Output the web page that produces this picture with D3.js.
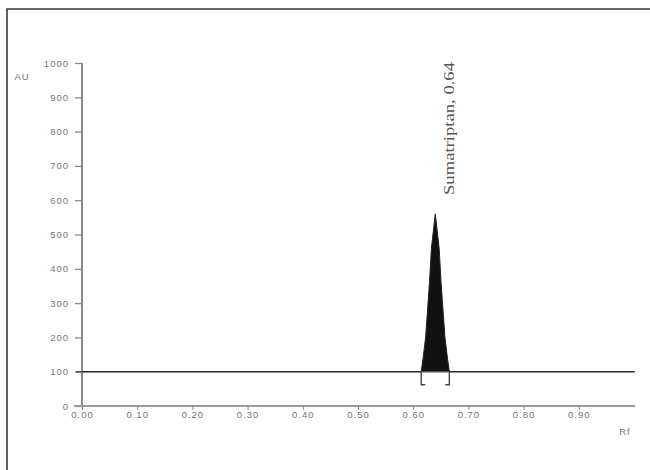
<!DOCTYPE html>
<html>
<head>
<meta charset="utf-8">
<script src="https://cdn.jsdelivr.net/npm/d3@7"></script>
<style>
  body { margin: 0; background: #fff; }
  svg { display: block; }
  .tick text, .axis-label { font-family: Arial, "Liberation Sans", sans-serif; fill: #767676; letter-spacing: 1px; }
</style>
</head>
<body>
<div id="chart"></div>
<script>
// datos del densitograma (Rf vs AU)
let rfValues = [0.00, 0.6145, 0.618, 0.6225, 0.6295, 0.633, 0.640, 0.647, 0.6505, 0.6575, 0.662, 0.6655, 1.00];
let auValues = [100, 100, 140, 200, 360, 460, 560, 460, 360, 200, 140, 100, 100];
let baselineAU = 100;
let peakName = 'Sumatriptan';
let peakRf = 0.64;
let peakStart = 0.6145, peakEnd = 0.6655;
let yTicks = [0, 100, 200, 300, 400, 500, 600, 700, 800, 900, 1000];
let xTicks = [0.00, 0.10, 0.20, 0.30, 0.40, 0.50, 0.60, 0.70, 0.80, 0.90];

let W = 650, H = 470;
let svg = d3.select('#chart').append('svg')
    .attr('width', W)
    .attr('height', H);

// marco (solo arriba e izquierda)
svg.append('path')
    .attr('d', 'M7,470 L7,9 L650,9')
    .attr('fill', 'none')
    .attr('stroke', '#3a3a3a')
    .attr('stroke-width', 1.6);

let x = d3.scaleLinear().domain([0, 1]).range([82, 634]);
let y = d3.scaleLinear().domain([0, 1000]).range([406, 63]);

// eje Y
let yAxis = function(g) {
    g.call(d3.axisLeft(y).tickValues(yTicks).tickSize(7).tickPadding(6).tickFormat(d3.format('d')));
    g.selectAll('.tick line').attr('stroke', '#8a8a8a').attr('stroke-width', 1.3);
    g.selectAll('.tick text').attr('font-size', 9.5);
    g.select('.domain').attr('stroke', '#8a8a8a').attr('stroke-width', 2).attr('d', 'M0,' + y(1000) + 'V' + (y(0) + 1));
};
svg.append('g').attr('transform', 'translate(' + x(0) + ',0)').call(yAxis);

// eje X
let xAxis = function(g) {
    g.call(d3.axisBottom(x).tickValues(xTicks).tickSize(4).tickPadding(1).tickFormat(d3.format('.2f')));
    g.selectAll('.tick line').attr('stroke', '#8a8a8a');
    g.selectAll('.tick text').attr('font-size', 9.5);
    g.select('.domain').attr('stroke', '#9a9a9a').attr('stroke-width', 2.2).attr('d', 'M' + (x(0) - 8) + ',0H' + (x(1) + 1));
};
svg.append('g').attr('transform', 'translate(0,' + y(0) + ')').call(xAxis);

svg.append('text')
    .attr('class', 'axis-label')
    .attr('x', 22).attr('y', 80)
    .attr('text-anchor', 'middle')
    .attr('font-size', 9.5)
    .text('AU');

svg.append('text')
    .attr('class', 'axis-label')
    .attr('x', 625).attr('y', 435)
    .attr('text-anchor', 'middle')
    .attr('font-size', 9.5)
    .text('Rf');

// area del pico respecto a la linea base
let data = rfValues.map(function(d, i) { return { rf: d, au: auValues[i] }; });
let peakData = data.filter(function(d) { return d.rf >= peakStart && d.rf <= peakEnd; });

svg.append('path')
    .datum(peakData)
    .attr('fill', '#111')
    .attr('d', d3.area()
        .x(function(d) { return x(d.rf); })
        .y0(y(baselineAU))
        .y1(function(d) { return y(d.au); }));

// linea base
svg.append('line')
    .attr('x1', x(0) - 6).attr('x2', x(1) + 1)
    .attr('y1', y(baselineAU)).attr('y2', y(baselineAU))
    .attr('stroke', '#555')
    .attr('stroke-width', 1.4);

// curva
svg.append('path')
    .datum(data)
    .attr('fill', 'none')
    .attr('stroke', '#222')
    .attr('stroke-width', 1)
    .attr('d', d3.line().x(function(d) { return x(d.rf); }).y(function(d) { return y(d.au); }));

// marcas de integracion
let yb = y(baselineAU);
svg.append('path')
    .attr('d', 'M' + x(peakStart) + ',' + yb + 'V' + (yb + 13) + 'h4' +
               'M' + x(peakEnd) + ',' + yb + 'V' + (yb + 13) + 'h-4')
    .attr('fill', 'none')
    .attr('stroke', '#444')
    .attr('stroke-width', 1.4);

// etiqueta del pico
let lx = x(peakRf) + 19, ly = 195;
svg.append('text')
    .attr('transform', 'translate(' + lx + ',' + ly + ') rotate(-90)')
    .attr('font-family', '"Liberation Serif", "Times New Roman", serif')
    .attr('font-size', 14)
    .attr('fill', '#555')
    .attr('textLength', 133)
    .attr('lengthAdjust', 'spacingAndGlyphs')
    .text(peakName + ', ' + d3.format('.2f')(peakRf));
</script>
</body>
</html>
